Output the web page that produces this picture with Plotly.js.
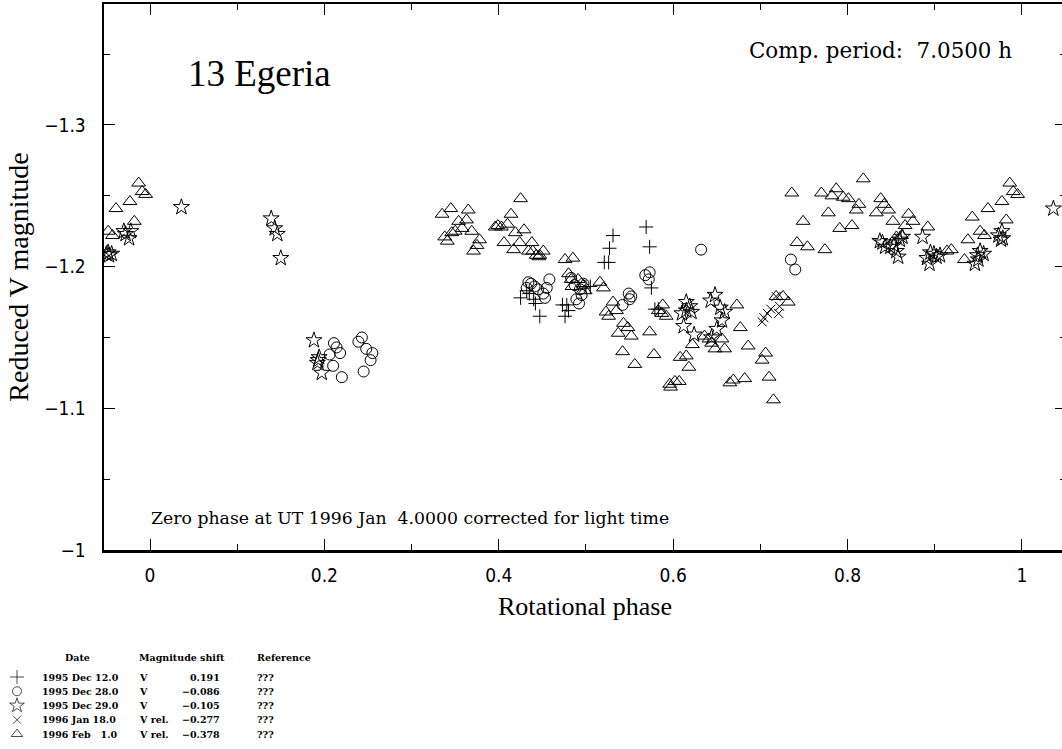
<!DOCTYPE html>
<html>
<head>
<meta charset="utf-8">
<script src="https://cdn.plot.ly/plotly-3.0.1.min.js"></script>
<style>
html,body{margin:0;padding:0;overflow:hidden;background:#fff;}
#chart{width:1066px;height:749px;}
</style>
</head>
<body>
<div id="chart"></div>
<script>
// ---- Data (phase, reduced V magnitude) ----
const plusPhase = [0.425,0.432,0.435,0.440,0.442,0.447,0.473,0.476,0.478,0.480,0.500,0.505,0.521,0.526,0.527,0.531,0.569,0.573,0.575,0.579,0.583];
const plusMag   = [-1.178,-1.183,-1.181,-1.177,-1.174,-1.165,-1.173,-1.165,-1.173,-1.169,-1.186,-1.186,-1.203,-1.203,-1.213,-1.222,-1.228,-1.214,-1.185,-1.170,-1.170];

const circPhase = [0.206,0.210,0.211,0.214,0.218,0.220,0.239,0.243,0.245,0.248,0.253,0.255,
  0.432,0.434,0.437,0.441,0.445,0.451,0.453,0.455,0.458,
  0.483,0.487,0.489,0.492,0.493,0.495,0.497,
  0.542,0.549,0.550,0.552,
  0.568,0.572,0.573,
  0.632,0.735,0.740];
const circMag = [-1.138,-1.130,-1.146,-1.143,-1.139,-1.122,-1.147,-1.150,-1.126,-1.142,-1.134,-1.139,
  -1.185,-1.189,-1.188,-1.186,-1.184,-1.181,-1.178,-1.185,-1.191,
  -1.192,-1.187,-1.177,-1.174,-1.184,-1.180,-1.188,
  -1.173,-1.181,-1.177,-1.179,
  -1.194,-1.191,-1.196,
  -1.212,-1.205,-1.198];

const starPhase = [-0.050,-0.048,-0.047,-0.044,-0.030,-0.028,-0.024,-0.022,0.036,0.139,0.143,0.146,0.150,0.188,0.192,0.193,0.194,0.197,
  0.610,0.612,0.615,0.615,0.619,0.621,0.624,
  0.643,0.644,0.648,0.650,0.654,0.656,0.659,
  0.837,0.840,0.843,0.849,0.853,0.856,0.858,0.860,0.863,
  0.886,0.891,0.894,0.895,0.899,0.902,0.906,
  0.946,0.949,0.950,0.952,0.956,
  0.973,0.976,0.977,0.978,
  1.036];
const starMag = [-1.209,-1.210,-1.208,-1.209,-1.225,-1.223,-1.220,-1.225,-1.242,-1.234,-1.227,-1.223,-1.206,-1.148,-1.132,-1.134,-1.136,-1.125,
  -1.167,-1.158,-1.175,-1.169,-1.172,-1.168,-1.152,
  -1.176,-1.150,-1.180,-1.156,-1.171,-1.162,-1.168,
  -1.218,-1.217,-1.214,-1.214,-1.215,-1.211,-1.207,-1.219,-1.221,
  -1.221,-1.206,-1.202,-1.210,-1.209,-1.207,-1.208,
  -1.202,-1.208,-1.205,-1.211,-1.209,
  -1.222,-1.219,-1.225,-1.220,
  -1.241];

const crossPhase = [0.702,0.704,0.708,0.712,0.718,0.721,0.722];
const crossMag   = [-1.161,-1.164,-1.167,-1.170,-1.179,-1.167,-1.172];

const triPhase = [-0.048,-0.043,-0.039,-0.023,-0.018,-0.013,-0.009,-0.005,
  0.335,0.338,0.341,0.345,0.346,0.350,0.354,0.358,0.363,0.365,0.369,0.371,0.375,0.378,
  0.396,0.399,0.403,0.406,0.410,0.414,0.417,0.419,0.424,0.425,0.429,0.434,0.438,0.439,0.443,0.446,0.447,0.451,
  0.476,0.480,0.483,0.484,0.485,0.491,0.497,0.499,0.516,0.520,
  0.523,0.526,0.531,0.535,0.537,0.542,0.543,0.548,0.552,0.556,
  0.573,0.578,0.583,0.587,0.588,0.592,0.596,0.597,0.602,0.607,0.608,0.615,0.618,0.622,
  0.636,0.641,0.644,0.648,0.656,0.659,0.665,0.669,0.673,0.677,0.682,0.686,
  0.702,0.706,0.710,0.715,0.718,0.726,0.732,
  0.736,0.742,0.749,0.754,0.770,0.774,0.778,0.782,0.787,0.791,0.795,0.801,0.805,0.810,0.813,0.818,
  0.833,0.838,0.842,0.847,0.852,0.856,0.862,0.866,0.870,0.875,0.892,
  0.914,0.919,0.934,0.938,0.943,0.952,0.957,0.961,0.977,0.982,0.986,0.990,0.995];
const triMag = [-1.225,-1.222,-1.241,-1.246,-1.232,-1.259,-1.253,-1.251,
  -1.237,-1.221,-1.218,-1.241,-1.224,-1.225,-1.232,-1.227,-1.233,-1.240,-1.225,-1.211,-1.215,-1.219,
  -1.228,-1.229,-1.228,-1.217,-1.230,-1.237,-1.212,-1.224,-1.217,-1.248,-1.226,-1.211,-1.217,-1.211,-1.208,-1.207,-1.208,-1.211,
  -1.205,-1.195,-1.191,-1.186,-1.206,-1.191,-1.187,-1.183,-1.189,-1.185,
  -1.168,-1.165,-1.175,-1.169,-1.153,-1.140,-1.160,-1.157,-1.151,-1.131,
  -1.154,-1.138,-1.169,-1.167,-1.173,-1.165,-1.117,-1.115,-1.119,-1.119,-1.136,-1.137,-1.129,-1.145,
  -1.151,-1.149,-1.146,-1.142,-1.149,-1.142,-1.118,-1.120,-1.173,-1.157,-1.121,-1.144,
  -1.134,-1.139,-1.122,-1.106,-1.179,-1.179,-1.175,
  -1.252,-1.217,-1.232,-1.214,-1.252,-1.212,-1.238,-1.250,-1.255,-1.227,-1.249,-1.248,-1.229,-1.240,-1.244,-1.262,
  -1.238,-1.248,-1.244,-1.240,-1.232,-1.221,-1.222,-1.229,-1.237,-1.232,-1.228,
  -1.211,-1.212,-1.205,-1.219,-1.235,-1.225,-1.222,-1.241,-1.246,-1.233,-1.259,-1.253,-1.251];

// ---- Legend table ----
const legendDates  = ['1995 Dec 12.0','1995 Dec 28.0','1995 Dec 29.0','1996 Jan 18.0','1996 Feb \u20071.0'];
const legendBands  = ['V','V','V','V rel.','V rel.'];
const legendShifts = ['0.191','\u22120.086','\u22120.105','\u22120.277','\u22120.378'];
const legendRefs   = ['???','???','???','???','???'];
const legendHeaders = ['Date','Magnitude shift','Reference'];
const legendRows = [0,1,2,3,4];

const symbols = ['cross-thin-open','circle-open','star-open','x-thin-open','triangle-up-open'];
const sizes   = [10,11,12,9,12];
const legendSizes = [10,9,11,8,10];

const series = [
  [plusPhase, plusMag],
  [circPhase, circMag],
  [starPhase, starMag],
  [crossPhase, crossMag],
  [triPhase, triMag]
];

const traces = series.map((s,i) => ({
  type:'scatter', mode:'markers', x:s[0], y:s[1], xaxis:'x', yaxis:'y',
  name: legendDates[i], cliponaxis:true, hoverinfo:'x+y',
  marker:{symbol:symbols[i], size:sizes[i], color:'black', line:{color:'black', width:1}}
}));

// legend markers on a small helper axis (rows = legend entries)
traces.push({
  type:'scatter', mode:'markers', xaxis:'x2', yaxis:'y2',
  x: legendRows.map(() => 17), y: legendRows, hoverinfo:'skip', cliponaxis:false,
  marker:{symbol:symbols, size:legendSizes, color:'black', line:{color:'black', width:1}}
});

const serifFont = 'DejaVu Serif, Liberation Serif, serif';
const legFont = {family:serifFont, size:9.5, color:'black', weight:'bold'};

const annotations = [
  {xref:'paper', yref:'paper', x:186/1066, y:1-73/749, xanchor:'left', yanchor:'middle', showarrow:false,
   text:'13 Egeria', font:{family:'Liberation Serif, serif', size:37, color:'black'}},
  {xref:'paper', yref:'paper', x:747/1066, y:1-50/749, xanchor:'left', yanchor:'middle', showarrow:false,
   text:'Comp. period:\u00a0\u00a07.0500 h', font:{family:serifFont, size:21.4, color:'black'}},
  {xref:'paper', yref:'paper', x:149/1066, y:1-518/749, xanchor:'left', yanchor:'middle', showarrow:false,
   text:'Zero phase at UT 1996 Jan\u00a0\u00a04.0000 corrected for light time', font:{family:serifFont, size:17.3, color:'black'}}
];

// legend header
const headerRow = -1.4;
annotations.push({xref:'x2', yref:'y2', x:77, y:headerRow, xanchor:'center', yanchor:'middle', showarrow:false, text:legendHeaders[0], font:legFont});
annotations.push({xref:'x2', yref:'y2', x:137, y:headerRow, xanchor:'left', yanchor:'middle', showarrow:false, text:legendHeaders[1], font:legFont});
annotations.push({xref:'x2', yref:'y2', x:255, y:headerRow, xanchor:'left', yanchor:'middle', showarrow:false, text:legendHeaders[2], font:legFont});
legendRows.forEach(r => {
  annotations.push({xref:'x2', yref:'y2', x:40, y:r, xanchor:'left', yanchor:'middle', showarrow:false, text:legendDates[r], font:legFont});
  annotations.push({xref:'x2', yref:'y2', x:137, y:r, xanchor:'left', yanchor:'middle', showarrow:false, text:legendBands[r], font:legFont});
  annotations.push({xref:'x2', yref:'y2', x:222, y:r, xanchor:'right', yanchor:'middle', showarrow:false, text:legendShifts[r], font:legFont});
  annotations.push({xref:'x2', yref:'y2', x:255, y:r, xanchor:'left', yanchor:'middle', showarrow:false, text:legendRefs[r], font:legFont});
});

const tickFont = {family:'Liberation Sans Narrow, DejaVu Sans Condensed, Liberation Sans, sans-serif', size:19, color:'black'};

// legend rows: row 0 at y=677px, 14.25 px per row; helper axis spans y=639..749px
const layout = {
  width:1066, height:749,
  margin:{l:0, r:0, t:0, b:0, pad:0},
  paper_bgcolor:'white', plot_bgcolor:'rgba(0,0,0,0)',
  showlegend:false,
  xaxis:{
    domain:[104/1066, 1], range:[-0.05275, 1.0505], anchor:'y',
    tick0:0, dtick:0.2, ticks:'inside', ticklen:11, tickwidth:1, tickcolor:'black',
    minor:{dtick:0.1, ticks:'inside', ticklen:6, tickwidth:1, tickcolor:'black'},
    showline:true, linewidth:2.5, linecolor:'black', mirror:'ticks',
    showgrid:false, zeroline:false, automargin:false,
    tickfont:tickFont, ticklabelstandoff:7,
    title:{text:'Rotational phase', font:{family:'Liberation Serif, serif', size:26, color:'black'}, standoff:12}
  },
  yaxis:{
    domain:[199/749, 745/749], range:[-1.0, -1.3854], anchor:'x',
    tick0:0, dtick:0.1, ticks:'inside', ticklen:11, tickwidth:1, tickcolor:'black',
    minor:{dtick:0.05, ticks:'inside', ticklen:6, tickwidth:1, tickcolor:'black'},
    showline:true, linewidth:2.5, linecolor:'black', mirror:'ticks',
    showgrid:false, zeroline:false, automargin:false,
    tickfont:tickFont, ticklabelstandoff:12,
    title:{text:'Reduced V magnitude', font:{family:'Liberation Serif, serif', size:28, color:'black'}, standoff:8}
  },
  xaxis2:{domain:[0, 320/1066], range:[0, 320], anchor:'y2', visible:false, fixedrange:true},
  yaxis2:{domain:[0, 110/749], range:[72/14.25, -38/14.25], anchor:'x2', visible:false, fixedrange:true},
  annotations: annotations
};

Plotly.newPlot('chart', traces, layout, {displayModeBar:false, staticPlot:true});
</script>
</body>
</html>
